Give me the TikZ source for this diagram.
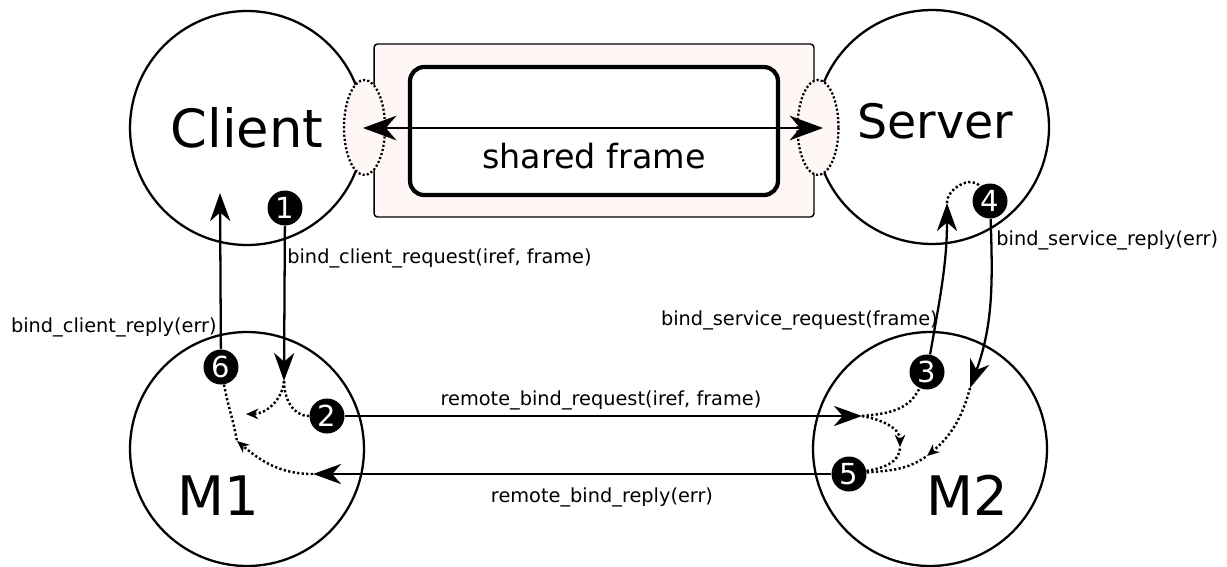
\documentclass[tikz,border=0pt]{standalone}
\usepackage{fontspec}
\setmainfont{DejaVu Sans}
\usepackage{tikz}
\usetikzlibrary{arrows.meta, shapes.geometric}
\usepackage{xcolor}
\definecolor{framepink}{RGB}{255, 246, 246}

\begin{document}
\begin{tikzpicture}[x=0.02cm, y=0.02cm,
    peer/.style={circle, draw, line width=1.3pt, minimum size=4.68cm, inner sep=0pt},
    stepmark/.style={circle, fill=black, text=white, minimum size=0.7cm, inner sep=0pt,
      font=\fontsize{16.5}{16}\selectfont},
    port/.style={ellipse, draw, fill=framepink, line width=1.3pt, dash pattern=on 1.2pt off 1.2pt,
      minimum width=0.82cm, minimum height=1.9cm, inner sep=0pt},
    msg/.style={inner sep=0pt, font=\fontsize{11}{13}\selectfont},
    call/.style={line width=1.3pt, -{Stealth[length=16pt, width=11.5pt, inset=5pt]}},
    hop/.style={line width=1.4pt, dash pattern=on 1.3pt off 1.3pt},
    hoptip/.style={hop, -{Stealth[length=7pt, width=6pt]}}]
  \useasboundingbox (0,0) rectangle (1227,-566);

  % the four parties
  \node[peer] (client) at (247,-128) {};
  \node[peer] (server) at (932,-127) {};
  \node[peer] (m1) at (247,-449) {};
  \node[peer] (m2) at (930,-449) {};

  % frame shared by client and server
  \node[draw, line width=0.8pt, fill=framepink, rounded corners=2pt,
    minimum width=8.8cm, minimum height=3.46cm] (outer) at (594,-130.5) {};
  \node[draw, line width=2.4pt, fill=white, rounded corners=8pt,
    minimum width=7.36cm, minimum height=2.56cm] (inner) at (594,-131) {};
  \node[port] (cport) at (364.5,-127.5) {};
  \node[port] (sport) at (818,-127.5) {};
  \coordinate (fl) at (363,-128);
  \coordinate (fr) at (823,-128);
  \draw[line width=1.3pt, {Stealth[length=19pt, width=14pt, inset=6pt]}-{Stealth[length=19pt, width=14pt, inset=6pt]}] (fl) -- (fr);

  \node[font=\fontsize{30}{36}\selectfont] (clientname) at (247,-128) {Client};
  \node[font=\fontsize{27}{32}\selectfont] (servername) at (935,-121) {Server};
  \node[font=\fontsize{31}{37}\selectfont] (m1name) at (218,-496) {M1};
  \node[font=\fontsize{31}{37}\selectfont] (m2name) at (967,-495) {M2};
  \node[font=\fontsize{19}{23}\selectfont] (framename) at (594,-156) {shared frame};

  \node[stepmark] (n1) at (285,-208) {1};
  \node[stepmark] (n2) at (327,-416) {2};
  \node[stepmark] (n3) at (927,-372) {3};
  \node[stepmark] (n4) at (990,-201) {4};
  \node[stepmark] (n5) at (849,-474) {5};
  \node[stepmark] (n6) at (221,-367) {6};

  % arrow ends
  \coordinate (creq) at (284,-381);
  \coordinate (crep) at (220,-193);
  \coordinate (rreq) at (862,-416);
  \coordinate (rrep) at (313,-474);
  \coordinate (sreq) at (947,-203);
  \coordinate (srep) at (970,-388);
  \coordinate (m1a) at (246,-414);
  \coordinate (m1b) at (237,-441);
  \coordinate (m2a) at (900,-447);
  \coordinate (m2b) at (927,-456);

  % messages
  \draw[call] (n1) -- (creq);
  \draw[call] (n6) -- (crep);
  \draw[call] (n2) -- (rreq);
  \draw[call] (n5) -- (rrep);
  \draw[call] (n3) to[out=80, in=-90] (sreq);
  \draw[call] (n4) to[out=-88, in=70] (srep);

  \node[msg, anchor=base west] (lcreq) at (287,-263) {bind\_client\_request(iref, frame)};
  \node[msg, anchor=base east] (lcrep) at (217,-332) {bind\_client\_reply(err)};
  \node[msg, anchor=base east] (lsreq) at (938,-325) {bind\_service\_request(frame)};
  \node[msg, anchor=base west] (lsrep) at (996,-245) {bind\_service\_reply(err)};
  \node[msg, anchor=base] (lrreq) at (601,-405) {remote\_bind\_request(iref, frame)};
  \node[msg, anchor=base] (lrrep) at (602,-502) {remote\_bind\_reply(err)};

  % internal hops
  \draw[hop] (creq) to[out=-90, in=180] (n2);
  \draw[hoptip] (creq) to[out=-95, in=0] (m1a);
  \draw[hoptip] (rrep) to[out=180, in=-40] (m1b);
  \draw[hop] (n6) to[out=-80, in=100] (m1b);
  \draw[hop] (rreq) to[out=5, in=-115] (n3);
  \draw[hoptip] (rreq) to[out=-10, in=90] (m2a);
  \draw[hop] (n5) to[out=10, in=-90] (m2a);
  \draw[hoptip] (srep) to[out=-105, in=40] (m2b);
  \draw[hop] (n5) to[out=5, in=-145] (m2b);
  \draw[hop] (sreq) to[out=92, in=125] (n4);
\end{tikzpicture}
\end{document}
